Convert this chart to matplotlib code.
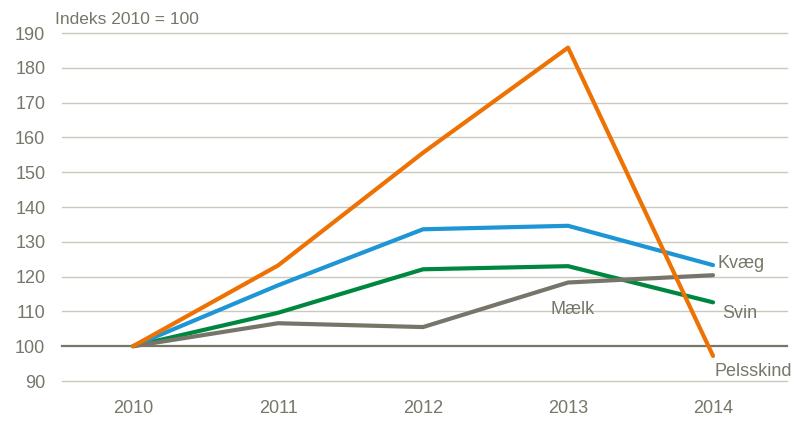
import matplotlib
matplotlib.use("Agg")
import matplotlib.pyplot as plt
from matplotlib import font_manager

years = ["2010", "2011", "2012", "2013", "2014"]
kvaeg = [100, 117.5, 133.6, 134.6, 123.3]
svin = [100, 109.6, 122.1, 123.0, 112.6]
maelk = [100, 106.6, 105.5, 118.3, 120.4]
pelsskind = [100, 123.2, 155.6, 185.8, 97.2]

names = {f.name for f in font_manager.fontManager.ttflist}
fam = ["Liberation Sans Narrow", "Liberation Sans", "DejaVu Sans"]
fam = [f for f in fam if f in names] or ["DejaVu Sans"]
plt.rcParams["font.family"] = fam

txt = "#77766A"
fs = 13
fig = plt.figure(figsize=(8.02, 4.23), dpi=100)
ax = fig.add_axes([62/802, 42/423, (787-62)/802, (381-33)/423])

x = list(range(len(years)))
for v in range(90, 191, 10):
    ax.axhline(v, color="#77766A" if v == 100 else "#C9C9BD",
               lw=1.6 if v == 100 else 1.0, zorder=1, clip_on=False)

ax.plot(x, svin, color="#00873F", lw=3, zorder=3, solid_capstyle="round")
ax.plot(x, kvaeg, color="#1E96D6", lw=3, zorder=3, solid_capstyle="round")
ax.plot(x, maelk, color="#77756A", lw=3, zorder=4, solid_capstyle="round")
ax.plot(x, pelsskind, color="#EE7203", lw=3, zorder=5, solid_capstyle="round")

ax.set_xlim(-0.49, 4.51)
ax.set_ylim(90, 190)
ax.set_yticks(range(90, 191, 10))
ax.set_xticks(x)
ax.set_xticklabels(years)
for s in ax.spines.values():
    s.set_visible(False)
ax.tick_params(length=0, colors=txt, labelsize=fs)
ax.tick_params(axis="y", pad=12)
ax.tick_params(axis="x", pad=14)

ax.text(4.03, 123.9, "Kvæg", color=txt, fontsize=fs, va="center", ha="left")
ax.text(4.065, 109.4, "Svin", color=txt, fontsize=fs, va="center", ha="left")
ax.text(4.01, 92.6, "Pelsskind", color=txt, fontsize=fs, va="center", ha="left")
ax.text(3.03, 110.6, "Mælk", color=txt, fontsize=fs, va="center", ha="center")
fig.text(55/802, 1 - 20/423, "Indeks 2010 = 100", color=txt, fontsize=fs - 0.5, va="center", ha="left")

fig.savefig("out.png", dpi=100)
